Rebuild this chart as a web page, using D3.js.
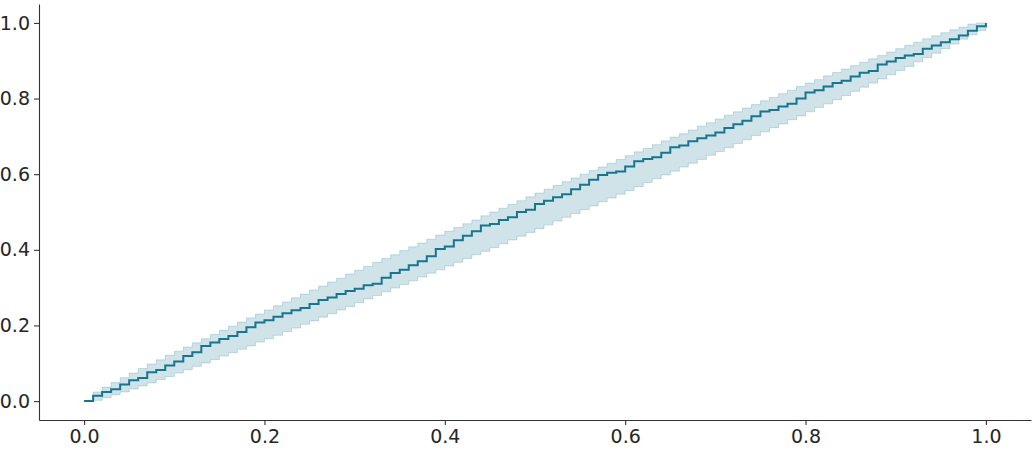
<!DOCTYPE html>
<html>
<head>
<meta charset="utf-8">
<script src="https://cdn.jsdelivr.net/npm/d3@7"></script>
<style>
  body { margin: 0; background: #ffffff; }
  .tick text { font-family: "DejaVu Sans", sans-serif; }
</style>
</head>
<body>
<div id="grafEcdf"></div>
<script>
// valores (um valor por degrau, x = 0.00 ... 1.00)
const ecdfValues = [
  0.000, 0.014, 0.024, 0.031, 0.044, 0.055, 0.061, 0.076, 0.082, 0.094,
  0.105, 0.119, 0.129, 0.146, 0.155, 0.164, 0.172, 0.183, 0.195, 0.208,
  0.214, 0.223, 0.232, 0.240, 0.246, 0.257, 0.267, 0.274, 0.283, 0.291,
  0.297, 0.306, 0.310, 0.326, 0.339, 0.347, 0.359, 0.370, 0.383, 0.402,
  0.409, 0.425, 0.437, 0.449, 0.464, 0.468, 0.479, 0.486, 0.500, 0.506,
  0.521, 0.530, 0.539, 0.547, 0.560, 0.572, 0.585, 0.598, 0.604, 0.607,
  0.620, 0.634, 0.640, 0.645, 0.657, 0.671, 0.676, 0.687, 0.695, 0.702,
  0.710, 0.722, 0.732, 0.741, 0.753, 0.766, 0.770, 0.779, 0.786, 0.800,
  0.816, 0.822, 0.832, 0.841, 0.847, 0.858, 0.868, 0.873, 0.890, 0.898,
  0.907, 0.914, 0.918, 0.932, 0.940, 0.949, 0.957, 0.967, 0.979, 0.991,
  1.000
];

// banda de confiança - limite superior
const bandUpper = [
  0.002, 0.024, 0.037, 0.049, 0.062, 0.074, 0.086, 0.098, 0.109, 0.121,
  0.132, 0.143, 0.154, 0.165, 0.176, 0.187, 0.198, 0.209, 0.220, 0.230,
  0.241, 0.252, 0.262, 0.273, 0.283, 0.294, 0.304, 0.315, 0.325, 0.336,
  0.346, 0.356, 0.367, 0.377, 0.387, 0.398, 0.408, 0.418, 0.428, 0.439,
  0.449, 0.459, 0.469, 0.479, 0.490, 0.500, 0.510, 0.520, 0.530, 0.540,
  0.550, 0.560, 0.570, 0.580, 0.590, 0.600, 0.610, 0.619, 0.629, 0.639,
  0.649, 0.659, 0.668, 0.678, 0.688, 0.698, 0.707, 0.717, 0.727, 0.736,
  0.746, 0.756, 0.765, 0.775, 0.784, 0.794, 0.803, 0.813, 0.822, 0.832,
  0.841, 0.850, 0.860, 0.869, 0.878, 0.887, 0.896, 0.905, 0.914, 0.923,
  0.932, 0.941, 0.949, 0.958, 0.966, 0.974, 0.982, 0.989, 0.997, 1.000,
  1.000
];

// banda de confiança - limite inferior
const bandLower = [
  0.000, 0.002, 0.009, 0.017, 0.024, 0.032, 0.040, 0.048, 0.057, 0.065,
  0.074, 0.083, 0.092, 0.101, 0.110, 0.119, 0.128, 0.137, 0.146, 0.156,
  0.165, 0.174, 0.184, 0.193, 0.203, 0.212, 0.222, 0.231, 0.241, 0.250,
  0.260, 0.270, 0.279, 0.289, 0.299, 0.308, 0.318, 0.328, 0.338, 0.347,
  0.357, 0.367, 0.377, 0.387, 0.396, 0.406, 0.416, 0.426, 0.436, 0.446,
  0.456, 0.466, 0.476, 0.486, 0.496, 0.506, 0.516, 0.527, 0.537, 0.547,
  0.557, 0.567, 0.578, 0.588, 0.598, 0.608, 0.619, 0.629, 0.639, 0.650,
  0.660, 0.670, 0.681, 0.691, 0.702, 0.712, 0.723, 0.733, 0.744, 0.754,
  0.765, 0.776, 0.786, 0.797, 0.808, 0.819, 0.830, 0.841, 0.852, 0.863,
  0.874, 0.885, 0.897, 0.908, 0.920, 0.932, 0.944, 0.957, 0.969, 0.980,
  0.980
];

const xTicks = [0.0, 0.2, 0.4, 0.6, 0.8, 1.0];
const yTicks = [0.0, 0.2, 0.4, 0.6, 0.8, 1.0];

//=============================
//  Atributos gerais
//=============================
const canvasWidth = 1035;
const canvasHeight = 450;
const plotLeft = 39, plotRight = 1031, plotTop = 4, plotBottom = 420;
const lineColor = "#17758f";
const bandColor = "#0f718e";
const axisColor = "#333333";

// juntar tudo numa tabela (x vem do índice do degrau)
const dataset = ecdfValues.map((v, i) => ({
  x: i / (ecdfValues.length - 1),
  ecdf: v,
  upper: bandUpper[i],
  lower: bandLower[i]
}));

const svg = d3
  .select("#grafEcdf")
  .append("svg")
  .attr("width", canvasWidth)
  .attr("height", canvasHeight);

//============Escalas============
const x = d3.scaleLinear().domain([-0.05, 1.05]).range([plotLeft, plotRight]);
const y = d3.scaleLinear().domain([-0.05, 1.05]).range([plotBottom, plotTop]);

//============Banda============
svg
  .append("path")
  .datum(dataset)
  .attr("fill", bandColor)
  .attr("fill-opacity", 0.2)
  .attr("stroke", bandColor)
  .attr("stroke-opacity", 0.2)
  .attr("stroke-width", 1)
  .attr(
    "d",
    d3
      .area()
      .curve(d3.curveStepAfter)
      .x((d) => x(d.x))
      .y0((d) => y(d.lower))
      .y1((d) => y(d.upper))
  );

//============Linha ECDF============
svg
  .append("path")
  .datum(dataset)
  .attr("fill", "none")
  .attr("stroke", lineColor)
  .attr("stroke-width", 2)
  .attr(
    "d",
    d3
      .line()
      .curve(d3.curveStepAfter)
      .x((d) => x(d.x))
      .y((d) => y(d.ecdf))
  );

//============Eixos============
const xAxis = svg
  .append("g")
  .attr("transform", `translate(0, ${plotBottom})`)
  .call(
    d3.axisBottom(x)
      .tickValues(xTicks)
      .tickFormat(d3.format(".1f"))
      .tickSize(5)
      .tickSizeOuter(0)
      .tickPadding(5)
  );

const yAxis = svg
  .append("g")
  .attr("transform", `translate(${plotLeft}, 0)`)
  .call(
    d3.axisLeft(y)
      .tickValues(yTicks)
      .tickFormat(d3.format(".1f"))
      .tickSize(5)
      .tickSizeOuter(0)
      .tickPadding(4)
  );

[xAxis, yAxis].forEach((g) => {
  g.select(".domain").attr("stroke", axisColor).attr("stroke-width", 1.1);
  g.selectAll(".tick line").attr("stroke", axisColor).attr("stroke-width", 1.1);
  g.selectAll(".tick text")
    .attr("fill", "#262626")
    .style("font-size", "19px");
});
</script>
</body>
</html>
